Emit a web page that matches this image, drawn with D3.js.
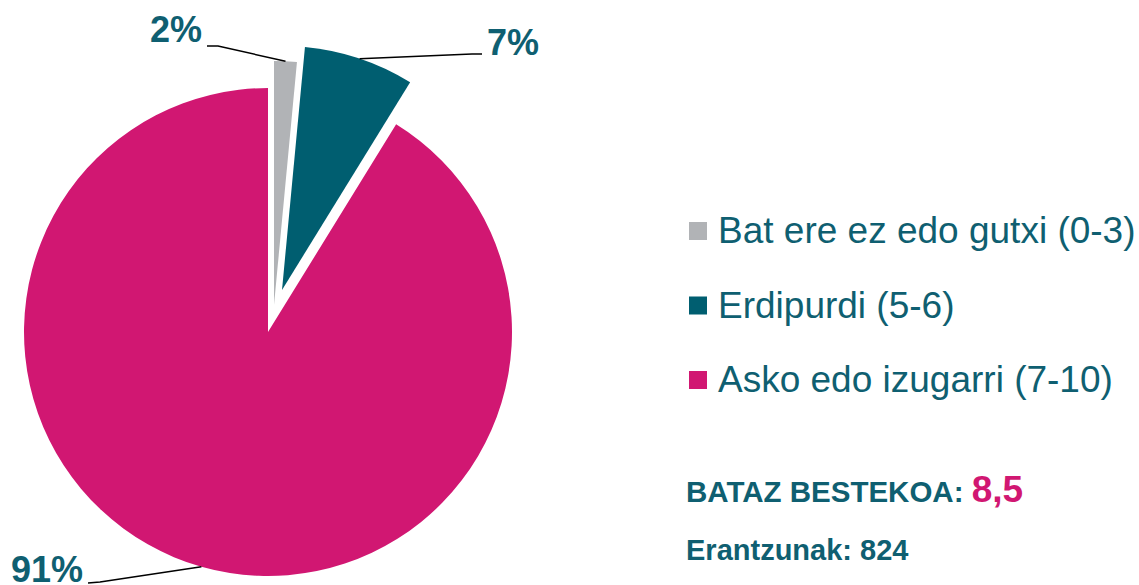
<!DOCTYPE html>
<html>
<head>
<meta charset="utf-8">
<script src="https://cdn.jsdelivr.net/npm/d3@7"></script>
<style>
  body { margin: 0; background: #fff; }
  svg { font-family: "Liberation Sans", Arial, sans-serif; }
</style>
</head>
<body>
<div id="chart"></div>
<script>
// data
const categories = ["Bat ere ez edo gutxi (0-3)", "Erdipurdi (5-6)", "Asko edo izugarri (7-10)"];
const values = [1.5, 7.3, 91.2];
const valueLabels = ["2%", "7%", "91%"];
const averageLabel = "BATAZ BESTEKOA:";
const averageValue = "8,5";
const answersLabel = "Erantzunak: 824";

const colors = ["#b1b3b6", "#005e70", "#d11772"];
const textColor = "#0f5f71";

// explosion offset of each slice (px)
const explode = [[6, -27], [14, -42], [0, 0]];
// label layout: elbow point, text point, anchor (relative to pie centre)
const labelLayout = [
    { elbow: [-50, -286], end: [-61, -286], text: [-66, -290], anchor: "end" },
    { elbow: [204, -278], end: [214, -278], text: [219, -277], anchor: "start" },
    { elbow: [-168, 250], end: [-180, 251], text: [-185, 250], anchor: "end" }
];

const width = 1139, height = 585;
const cx = 268, cy = 332, radius = 244;

const svg = d3.select("#chart")
    .append("svg")
    .attr("width", width)
    .attr("height", height);

const pie = d3.pie().sort(null).value(d => d)(values);
const arc = d3.arc().innerRadius(0).outerRadius(radius);

const g = svg.append("g").attr("transform", `translate(${cx},${cy})`);

// slices
g.selectAll(".slice")
    .data(pie)
    .enter()
    .append("path")
    .attr("class", "slice")
    .attr("transform", (d, i) => `translate(${explode[i][0]},${explode[i][1]})`)
    .attr("d", arc)
    .attr("fill", (d, i) => colors[i]);

// leader lines + value labels
pie.forEach((d, i) => {
    const mid = (d.startAngle + d.endAngle) / 2;
    const px = explode[i][0] + radius * Math.sin(mid);
    const py = explode[i][1] - radius * Math.cos(mid);
    const lay = labelLayout[i];
    g.append("polyline")
        .attr("points", [[px, py], lay.elbow, lay.end].map(p => p.join(",")).join(" "))
        .attr("fill", "none")
        .attr("stroke", "#000")
        .attr("stroke-width", 1.5);
    g.append("text")
        .attr("x", lay.text[0])
        .attr("y", lay.text[1])
        .attr("text-anchor", lay.anchor)
        .style("font-size", "36px")
        .style("font-weight", "bold")
        .attr("fill", textColor)
        .text(valueLabels[i]);
});

// legend
const legend = svg.append("g").attr("transform", "translate(689,243)");
categories.forEach((c, i) => {
    const row = legend.append("g").attr("transform", `translate(0,${i * 74.5})`);
    row.append("rect")
        .attr("x", 0)
        .attr("y", -21)
        .attr("width", 18)
        .attr("height", 18)
        .attr("fill", colors[i]);
    row.append("text")
        .attr("x", 29)
        .attr("y", 0)
        .style("font-size", "37px")
        .attr("fill", textColor)
        .text(c);
});

// average & answers
const avg = svg.append("text")
    .attr("x", 686)
    .attr("y", 502)
    .attr("fill", textColor)
    .style("font-weight", "bold");
avg.append("tspan").style("font-size", "29.5px").text(averageLabel + " ");
avg.append("tspan").style("font-size", "37px").attr("fill", colors[2]).text(averageValue);

svg.append("text")
    .attr("x", 686)
    .attr("y", 560)
    .attr("fill", textColor)
    .style("font-weight", "bold")
    .style("font-size", "29px")
    .text(answersLabel);
</script>
</body>
</html>
